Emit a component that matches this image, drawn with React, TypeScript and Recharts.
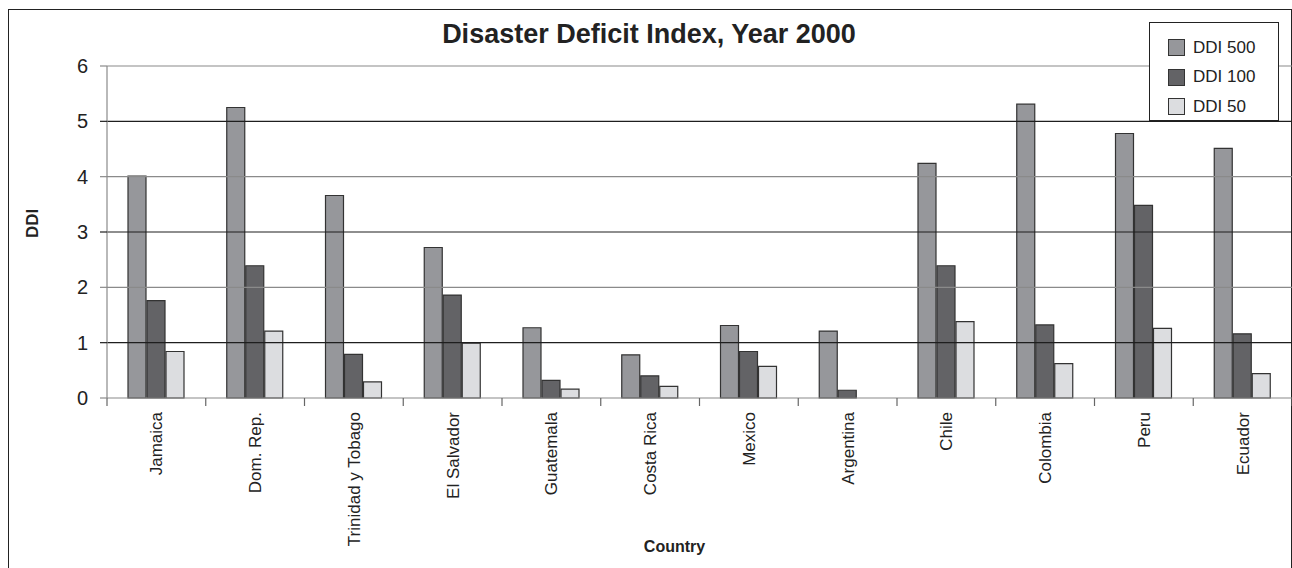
import { BarChart, Bar, XAxis, YAxis, ReferenceLine } from "recharts";

const countries = [
    "Jamaica",
    "Dom. Rep.",
    "Trinidad y Tobago",
    "El Salvador",
    "Guatemala",
    "Costa Rica",
    "Mexico",
    "Argentina",
    "Chile",
    "Colombia",
    "Peru",
    "Ecuador",
];
const ddi500 = [4.01, 5.25, 3.66, 2.72, 1.27, 0.78, 1.31, 1.21, 4.24, 5.31, 4.78, 4.51];
const ddi100 = [1.76, 2.39, 0.79, 1.86, 0.32, 0.4, 0.84, 0.14, 2.39, 1.32, 3.48, 1.16];
const ddi50 = [0.84, 1.21, 0.29, 0.99, 0.16, 0.21, 0.57, 0, 1.38, 0.62, 1.26, 0.44];
const yTicks = [0, 1, 2, 3, 4, 5, 6];

const series = [
    { key: "ddi500", name: "DDI 500", fill: "#96979b" },
    { key: "ddi100", name: "DDI 100", fill: "#636366" },
    { key: "ddi50", name: "DDI 50", fill: "#dcdde0" },
];

const FONT = '"Liberation Sans", Arial, sans-serif';

const data = countries.map((country, i) => ({
    country,
    ddi500: ddi500[i],
    ddi100: ddi100[i],
    ddi50: ddi50[i],
}));

// odd gridlines come out black, even ones grey
const lineColor = (v: number) => (v % 2 === 1 ? "#1e1e1e" : "#8a8a8a");

const CountryTick = (props: any) => {
    const { x, y, payload, index, visibleTicksCount } = props;
    const half = payload.offset ?? 49.4;
    return (
        <g>
            <line x1={x - half} x2={x - half} y1={y} y2={y + 8} stroke="#666" strokeWidth={1.2} />
            {index === visibleTicksCount - 1 && (
                <line x1={x + half} x2={x + half} y1={y} y2={y + 8} stroke="#666" strokeWidth={1.2} />
            )}
            <text
                transform={`translate(${x + 6},${y + 14}) rotate(-90)`}
                textAnchor="end"
                fontSize={17}
                fontFamily={FONT}
                fill="#222"
            >
                {payload.value}
            </text>
        </g>
    );
};

const ValueTick = (props: any) => {
    const { x, y, payload } = props;
    return (
        <g>
            <line x1={x - 7} x2={x} y1={y} y2={y} stroke={lineColor(payload.value)} strokeWidth={1.2} />
            <text
                x={x - 19}
                y={y}
                textAnchor="end"
                dominantBaseline="central"
                fontSize={20}
                fontFamily={FONT}
                fill="#222"
            >
                {payload.value}
            </text>
        </g>
    );
};

export default function App() {
    return (
        <div
            style={{
                position: "absolute",
                left: 0,
                top: 0,
                width: 1292,
                height: 568,
                overflow: "hidden",
                background: "#fff",
                fontFamily: FONT,
            }}
        >
            <div
                style={{
                    position: "absolute",
                    left: 8,
                    top: 9,
                    width: 1284,
                    height: 600,
                    boxSizing: "border-box",
                    border: "1.5px solid #222",
                }}
            />
            <BarChart
                width={1292}
                height={568}
                data={data}
                margin={{ top: 66, right: 0, bottom: 0, left: 47 }}
                barSize={18}
                barGap={1}
                style={{ position: "absolute", left: 0, top: 0 }}
            >
                {yTicks.slice(1).map((v) => (
                    <ReferenceLine key={v} y={v} stroke={lineColor(v)} strokeWidth={1.2} />
                ))}
                <XAxis
                    dataKey="country"
                    height={170}
                    interval={0}
                    tickLine={false}
                    tickSize={0}
                    tickMargin={0}
                    axisLine={{ stroke: "#8a8a8a", strokeWidth: 1.2 }}
                    tick={<CountryTick />}
                    label={{
                        value: "Country",
                        position: "insideBottom",
                        offset: 16,
                        dx: -25,
                        fontSize: 16,
                        fontWeight: "bold",
                        fontFamily: FONT,
                        fill: "#222",
                    }}
                />
                <YAxis
                    width={60}
                    domain={[0, 6]}
                    ticks={yTicks}
                    tickLine={false}
                    tickSize={0}
                    tickMargin={0}
                    axisLine={{ stroke: "#8a8a8a", strokeWidth: 1.2 }}
                    tick={<ValueTick />}
                    label={{
                        value: "DDI",
                        angle: -90,
                        position: "insideLeft",
                        dx: -20,
                        dy: 6,
                        fontSize: 17,
                        fontWeight: "bold",
                        fontFamily: FONT,
                        fill: "#222",
                    }}
                />
                {series.map((s) => (
                    <Bar
                        key={s.key}
                        dataKey={s.key}
                        name={s.name}
                        fill={s.fill}
                        stroke="#333"
                        strokeWidth={1.2}
                        isAnimationActive={false}
                    />
                ))}
            </BarChart>
            <div
                style={{
                    position: "absolute",
                    left: 0,
                    top: 21,
                    width: 1298,
                    textAlign: "center",
                    fontSize: 27,
                    lineHeight: "26px",
                    fontWeight: "bold",
                    color: "#222",
                }}
            >
                Disaster Deficit Index, Year 2000
            </div>
            <div
                style={{
                    position: "absolute",
                    left: 1149,
                    top: 22,
                    width: 130,
                    height: 99,
                    boxSizing: "border-box",
                    border: "1.5px solid #222",
                    background: "#fff",
                    paddingTop: 10,
                }}
            >
                {series.map((s) => (
                    <div
                        key={s.key}
                        style={{ display: "flex", alignItems: "center", height: 29.5, paddingLeft: 18 }}
                    >
                        <div
                            style={{
                                width: 17,
                                height: 17,
                                boxSizing: "border-box",
                                background: s.fill,
                                border: "1.2px solid #333",
                                marginRight: 8,
                            }}
                        />
                        <span style={{ fontSize: 17, color: "#222" }}>{s.name}</span>
                    </div>
                ))}
            </div>
        </div>
    );
}
